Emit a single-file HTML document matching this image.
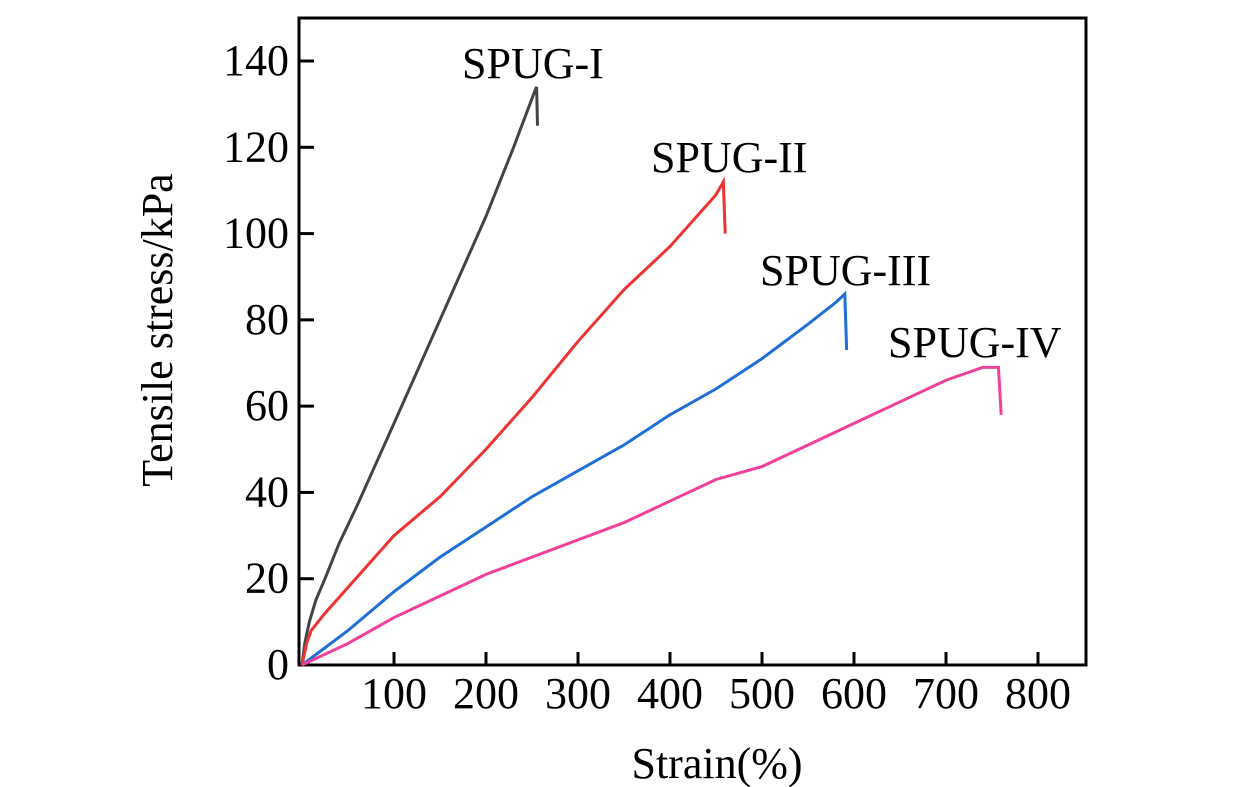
<!DOCTYPE html>
<html><head><meta charset="utf-8"><style>body{margin:0;background:#fff}svg{display:block}text{font-family:"Liberation Serif",serif;fill:#000}</style></head>
<body>
<svg id="c" width="1260" height="787"></svg>
<script>
const xTicks=[100,200,300,400,500,600,700,800];
const yTicks=[0,20,40,60,80,100,120,140];
const seriesNames=["SPUG-I","SPUG-II","SPUG-III","SPUG-IV"];
const s1=[[0,0],[3,5],[8,10],[15,15],[25,20],[40,28],[60,37],[100,56],[150,80],[200,104],[230,120],[253,133],[255,134],[256,125]];
const s2=[[0,0],[5,5],[10,8],[25,12],[50,18],[100,30],[150,39],[200,50],[250,62],[300,75],[350,87],[400,97],[450,109],[458,112],[460,100]];
const s3=[[0,0],[50,8],[100,17],[150,25],[200,32],[250,39],[300,45],[350,51],[400,58],[450,64],[500,71],[550,79],[580,84],[590,86],[592,73]];
const s4=[[0,0],[50,5],[100,11],[150,16],[200,21],[250,25],[300,29],[350,33],[400,38],[450,43],[500,46],[550,51],[600,56],[650,61],[700,66],[740,69],[757,69],[760,58]];
const colors=["#444444","#ee3333","#1f6fd6","#f0409a"];
const labelPos=[[462,78],[651,172],[760,285],[888,357]];
const X=v=>302+v*0.92, Y=v=>665-v*(604/140);
const svg=document.getElementById('c'),NS="http://www.w3.org/2000/svg";
function mk(t,a,txt){const e=document.createElementNS(NS,t);for(const k in a)e.setAttribute(k,a[k]);if(txt!=null)e.textContent=txt;svg.appendChild(e);return e;}
let e=mk('rect',{x:299,y:18,width:787,height:647,fill:'none',stroke:'#000','stroke-width':3});


xTicks.forEach(v=>{let t=mk('line',{x1:X(v),x2:X(v),y1:665,y2:652,stroke:'#000','stroke-width':3});


let l=mk('text',{x:X(v),y:708,'font-size':44,'text-anchor':'middle'},v);

});
yTicks.forEach(v=>{if(v>0){let t=mk('line',{x1:299,x2:314,y1:Y(v),y2:Y(v),stroke:'#000','stroke-width':3});

}
let l=mk('text',{x:289,y:Y(v)+14,'font-size':44,'text-anchor':'end'},v);

});
[s1,s2,s3,s4].forEach((s,i)=>{let p=mk('polyline',{points:s.map(d=>X(d[0])+','+Y(d[1])).join(' '),fill:'none',stroke:colors[i],'stroke-width':3});


let l=mk('text',{x:labelPos[i][0],y:labelPos[i][1],'font-size':44},seriesNames[i]);

});
e=mk('text',{x:717,y:778,'font-size':44,'text-anchor':'middle'},'Strain(%)');


e=mk('text',{x:0,y:0,'font-size':44,'text-anchor':'middle',transform:'translate(172,330) rotate(-90)'},'Tensile stress/kPa');


</script>
</body></html>
